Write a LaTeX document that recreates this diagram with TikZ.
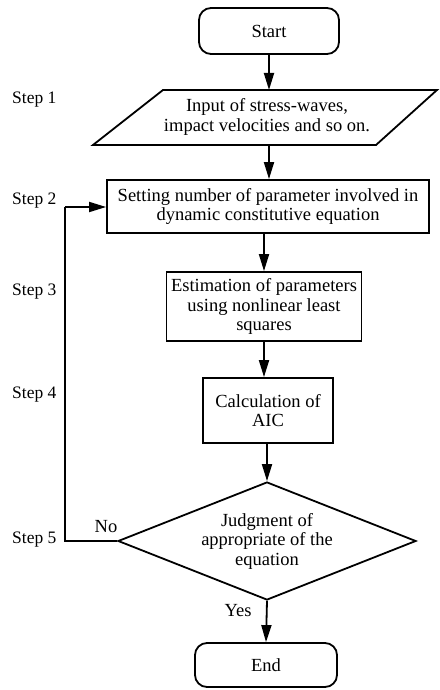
\documentclass[tikz,border=0pt]{standalone}
\usepackage{fontspec}
\setmainfont{Liberation Serif}
\usetikzlibrary{shapes.geometric,arrows.meta}
\begin{document}
\begin{tikzpicture}[x=1pt,y=-1pt,
  every node/.style={font=\fontsize{18.5}{19.5}\selectfont, inner sep=0pt},
  box/.style={draw, line width=1.8pt, align=center},
  term/.style={box, rounded corners=12pt},
  lab/.style={anchor=west, font=\fontsize{17.5}{19}\selectfont},
  arr/.style={line width=1.8pt, -{Triangle[length=17pt,width=10pt]}},
  ln/.style={line width=1.8pt}]
\useasboundingbox (0,0) rectangle (439,690);
% nodes
\node[term, minimum width=140pt, minimum height=46pt] (start) at (269,31) {Start};
\draw[line width=1.8pt, line join=miter] (163,90) -- (437,90) -- (376,145) -- (93,145) -- cycle;
\node[align=center] (input) at (267,117) {Input of stress-waves,\\impact velocities and so on.};
\coordinate (intop) at (269,90);
\coordinate (inbot) at (269,145);
\node[box, minimum width=322pt, minimum height=53pt] (set) at (268,206.5) {Setting number of parameter involved in\\dynamic constitutive equation};
\node[box, minimum width=195pt, minimum height=69pt] (est) at (264,306.5) {Estimation of parameters\\using nonlinear least\\squares};
\node[box, minimum width=130pt, minimum height=65pt] (aic) at (268,410.5) {Calculation of\\AIC};
\node[diamond, draw, line width=1.8pt, align=center, minimum width=298pt, minimum height=118pt, aspect=2.5] (judge) at (267,541) {Judgment of\\appropriate of the\\equation};
\node[term, minimum width=142pt, minimum height=44pt] (end) at (266,665) {End};
% step labels
\node[lab] (s1) at (12,100) {Step 1};
\node[lab] (s2) at (12,201) {Step 2};
\node[lab] (s3) at (12,292) {Step 3};
\node[lab] (s4) at (12,395) {Step 4};
\node[lab] (s5) at (12,540) {Step 5};
\node (no) at (106,527) {No};
\node (yes) at (238,611) {Yes};
% connectors
\draw[arr] (start.south) -- (intop);
\draw[arr] (inbot) -- (inbot |- set.north);
\draw[arr] (set.south -| est.north) -- (est.north);
\draw[arr] (est.south) -- (est.south |- aic.north);
\draw[arr] (aic.south -| judge.north) -- (judge.north);
\draw[arr] (judge.south) -- (end.north);
\coordinate (fb1) at (65,541);
\coordinate (fb2) at (65,207);
\draw[ln] (judge.west) -- (fb1) -- (fb2);
\draw[arr] (fb2) -- (fb2 -| set.west);
\end{tikzpicture}
\end{document}
